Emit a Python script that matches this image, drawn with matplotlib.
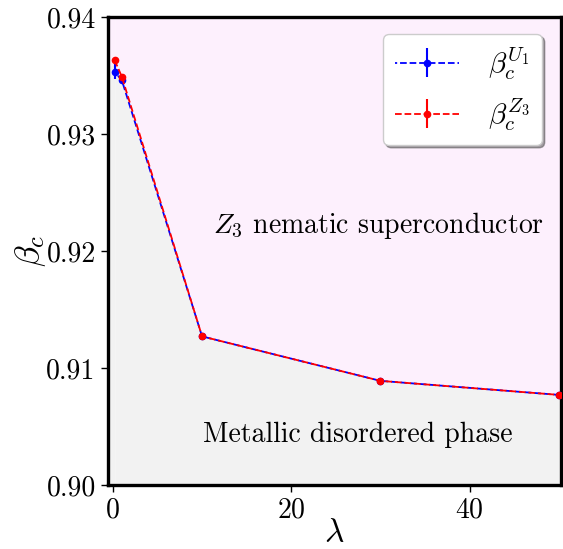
import matplotlib
matplotlib.use("Agg")
import matplotlib.pyplot as plt
import numpy as np

plt.rcParams['font.family'] = ['cmr10', 'DejaVu Serif']
plt.rcParams['mathtext.fontset'] = 'cm'
plt.rcParams['axes.unicode_minus'] = False
plt.rcParams['axes.formatter.use_mathtext'] = True

lam = [0.2, 1, 10, 30, 50]
beta_u1 = [0.9353, 0.9346, 0.9127, 0.9089, 0.9077]
err_u1 = [0.00064, 0.0002, 0.0001, 0.00025, 0.0002]
beta_z3 = [0.9363, 0.9349, 0.9127, 0.9089, 0.9077]
err_z3 = [0.0001, 0.0002, 0.0001, 0.0001, 0.0001]

xticks = [0, 20, 40]
yticks = [0.90, 0.91, 0.92, 0.93, 0.94]

fig = plt.figure(figsize=(5.63, 5.49), dpi=100)
ax = fig.add_axes([0.191, 0.1166, 0.8055, 0.8525])

xlim = (-0.6, 50.25)
ylim = (0.90, 0.94)
mean_curve = (np.array(beta_u1) + np.array(beta_z3)) / 2
xs = np.array(lam)
gray, pink = '#f2f2f2', '#fdf0fd'
ax.fill_between(xs, ylim[0], mean_curve, color=gray, zorder=0, lw=0)
ax.fill_between(xs, mean_curve, ylim[1], color=pink, zorder=0, lw=0)
ax.fill_between([xlim[0], xs[0]], [ylim[0]]*2, [mean_curve[0]]*2, color=gray, zorder=0, lw=0)
ax.fill_between([xlim[0], xs[0]], [mean_curve[0]]*2, [ylim[1]]*2, color=pink, zorder=0, lw=0)
ax.fill_between([xs[-1], xlim[1]], [ylim[0]]*2, [mean_curve[-1]]*2, color=gray, zorder=0, lw=0)
ax.fill_between([xs[-1], xlim[1]], [mean_curve[-1]]*2, [ylim[1]]*2, color=pink, zorder=0, lw=0)

ax.errorbar(lam, beta_u1, yerr=err_u1, color='blue', ls=(2.5, (3.7, 1.6)), marker='o', ms=4.5,
            lw=1.3, elinewidth=1.5, capsize=0, label=r'$\beta_c^{U_1}$', zorder=3)
ax.errorbar(lam, beta_z3, yerr=err_z3, color='red', ls=(0, (3.7, 1.6)), marker='o', ms=4.5,
            lw=1.3, elinewidth=1.5, capsize=0, label=r'$\beta_c^{Z_3}$', zorder=4)

ax.text(29.8, 0.9222, r'$Z_3$ nematic superconductor', fontsize=20, ha='center', va='center')
ax.text(27.5, 0.9043, 'Metallic disordered phase', fontsize=20, ha='center', va='center')

ax.set_xlim(*xlim)
ax.set_ylim(*ylim)
ax.set_xticks(xticks)
ax.set_yticks(yticks)
ax.set_yticklabels([f'{v:.2f}' for v in yticks])
ax.tick_params(labelsize=20, direction='out', length=5, width=1)
for s in ax.spines.values():
    s.set_linewidth(2.4)

ax.set_xlabel(r'$\lambda$', fontsize=24, labelpad=-3)
ax.set_ylabel(r'$\beta_c$', fontsize=25, labelpad=-1)

leg = ax.legend(loc='upper right', fontsize=21, shadow=True, fancybox=True,
                framealpha=1, borderpad=0.4, handlelength=2.2, handletextpad=1.0,
                labelspacing=0.5, bbox_to_anchor=(0.99, 0.995))

fig.savefig('out.png', dpi=100)
